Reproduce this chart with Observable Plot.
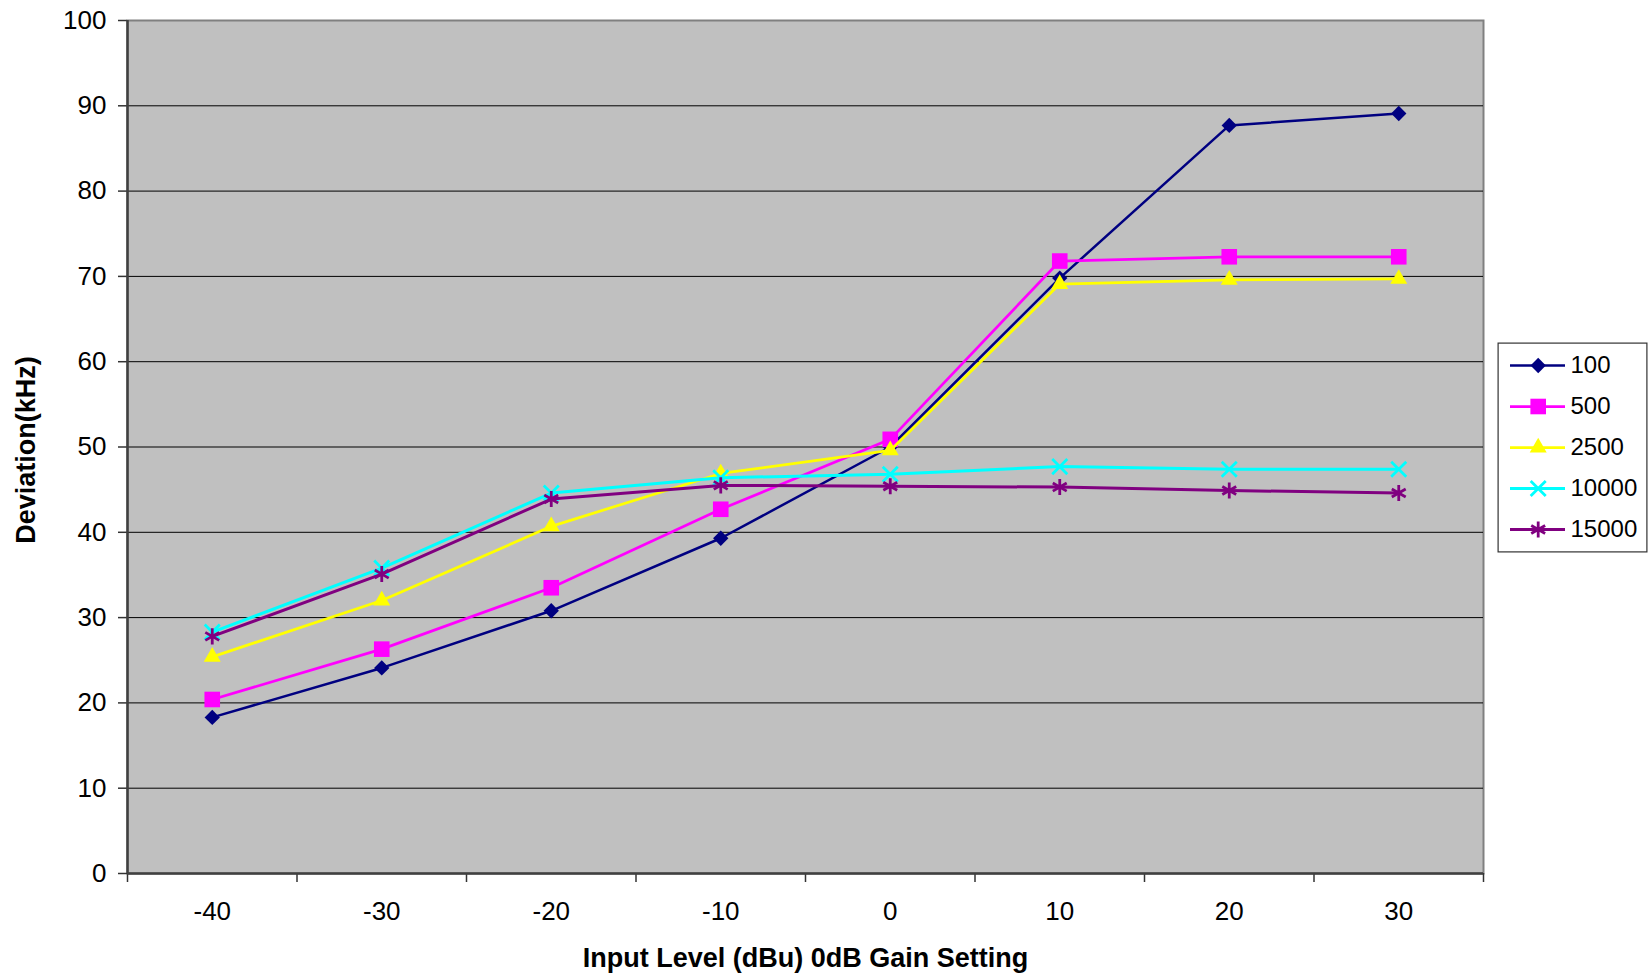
<!DOCTYPE html>
<html>
<head>
<meta charset="utf-8">
<script src="https://cdn.jsdelivr.net/npm/d3@7"></script>
<script src="https://cdn.jsdelivr.net/npm/@observablehq/plot@0.6"></script>
<style>
  html, body { margin: 0; padding: 0; background: white; }
  #wrap { position: relative; width: 1650px; height: 978px; }
  #chart { position: absolute; left: 0; top: 0; }
  #legend { position: absolute; left: 1497px; top: 342px; }
</style>
</head>
<body>
<div id="wrap">
  <div id="chart"></div>
  <div id="legend"></div>
</div>
<script>
// ---- data ----
const levels = [-40, -30, -20, -10, 0, 10, 20, 30];
const seriesNames = ["100", "500", "2500", "10000", "15000"];
const s100   = [18.3, 24.1, 30.8, 39.3, 50.0, 69.8, 87.7, 89.1];
const s500   = [20.4, 26.3, 33.5, 42.7, 50.9, 71.8, 72.3, 72.3];
const s2500  = [25.4, 32.0, 40.7, 46.9, 49.6, 69.1, 69.6, 69.7];
const s10000 = [28.3, 35.8, 44.6, 46.4, 46.8, 47.7, 47.4, 47.4];
const s15000 = [27.8, 35.1, 43.9, 45.5, 45.4, 45.3, 44.9, 44.6];
const yTicks = [0, 10, 20, 30, 40, 50, 60, 70, 80, 90, 100];
const xBoundaries = [-45, -35, -25, -15, -5, 5, 15, 25, 35];
const xTitle = "Input Level (dBu) 0dB Gain Setting";
const yTitle = "Deviation(kHz)";

// ---- styles per series ----
const seriesValues = [s100, s500, s2500, s10000, s15000];
const styles = [
  {color: "#000080", symbol: "diamond2", r: 6.9, filled: true,  width: 2.5},
  {color: "#FF00FF", symbol: "square",   r: 8.8, filled: true,  width: 2.75},
  {color: "#FFFF00", symbol: "triangle", r: 6.3, filled: true,  width: 2.75},
  {color: "#00FFFF", symbol: "times",    r: 6.9, filled: false, width: 3},
  {color: "#800080", symbol: "asterisk", r: 7.6, filled: false, width: 3}
];

const table = [];
seriesNames.forEach((name, i) => {
  levels.forEach((lv, j) => table.push({series: name, level: lv, value: seriesValues[i][j]}));
});

const font = "'Liberation Sans', Arial, sans-serif";

function dotOpts(st, extra) {
  return st.filled
    ? {...extra, symbol: st.symbol, r: st.r, fill: st.color, stroke: "none"}
    : {...extra, symbol: st.symbol, r: st.r, fill: "none", stroke: st.color, strokeWidth: 2.8};
}

const seriesMarks = [];
seriesNames.forEach((name, i) => {
  const st = styles[i];
  const d = table.filter(r => r.series === name);
  seriesMarks.push(Plot.line(d, {x: "level", y: "value", stroke: st.color, strokeWidth: st.width}));
  seriesMarks.push(Plot.dot(d, dotOpts(st, {x: "level", y: "value"})));
});

const chart = Plot.plot({
  width: 1650,
  height: 978,
  marginLeft: 127,
  marginRight: 167,
  marginTop: 20,
  marginBottom: 105,
  style: {fontFamily: font, fontSize: "26px", background: "white", color: "black", overflow: "visible"},
  x: {domain: [-45, 35]},
  y: {domain: [0, 100]},
  marks: [
    Plot.frame({fill: "#c0c0c0", stroke: "#808080", strokeWidth: 2}),
    Plot.gridY(yTicks.slice(1, -1), {stroke: "black", strokeOpacity: 1, strokeWidth: 1}),
    Plot.axisY({ticks: yTicks, tickSize: 9, tickPadding: 12, label: null, stroke: "#333", strokeWidth: 1.5}),
    Plot.axisX({ticks: xBoundaries, tickSize: 9, tickFormat: () => "", label: null, stroke: "#333", strokeWidth: 1.5}),
    Plot.axisX({ticks: levels, tickSize: 0, tickPadding: 28, tickFormat: d => String(d), label: null}),
    Plot.ruleX([-45], {stroke: "#404040", strokeWidth: 2.5}),
    Plot.ruleY([0], {stroke: "#404040", strokeWidth: 2.5}),
    ...seriesMarks,
    Plot.text([xTitle], {frameAnchor: "bottom", dy: 93, fontSize: 27, fontWeight: "bold", fill: "black"}),
    Plot.text([yTitle], {frameAnchor: "left", textAnchor: "middle", dx: -101, dy: 3, rotate: -90, fontSize: 27, fontWeight: "bold", fill: "black"})
  ]
});
document.getElementById("chart").appendChild(chart);

// ---- legend ----
const legendMarks = [Plot.frame({stroke: "#333", strokeWidth: 1.2, inset: 0.6})];
seriesNames.forEach((name, i) => {
  const st = styles[i];
  legendMarks.push(Plot.ruleY([name], {y: d => d, x1: 13, x2: 68, stroke: st.color, strokeWidth: st.width}));
  legendMarks.push(Plot.dot([name], dotOpts(st, {y: d => d, x: 40.7})));
  legendMarks.push(Plot.text([name], {y: d => d, x: 73, text: d => d, textAnchor: "start", fontSize: 24, fill: "black"}));
});
const legend = Plot.plot({
  width: 150,
  height: 210,
  margin: 0,
  style: {fontFamily: font, background: "white", color: "black", overflow: "visible"},
  x: {domain: [0, 150], axis: null},
  y: {type: "point", domain: seriesNames, range: [21.6, 188.3], padding: 0, axis: null},
  marks: legendMarks
});
document.getElementById("legend").appendChild(legend);
</script>
</body>
</html>
